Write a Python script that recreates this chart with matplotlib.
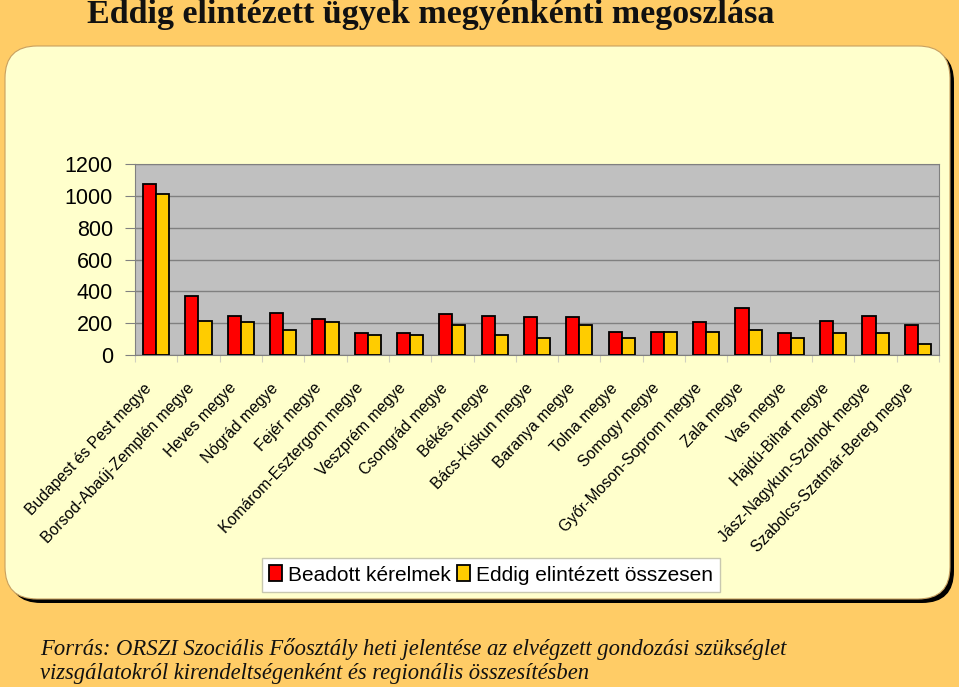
import matplotlib
matplotlib.use("Agg")
import numpy as np
import matplotlib.pyplot as plt
from matplotlib.patches import FancyBboxPatch
from matplotlib.transforms import ScaledTranslation

COUNTIES = [
    "Budapest és Pest megye", "Borsod-Abaúj-Zemplén megye", "Heves megye",
    "Nógrád megye", "Fejér megye", "Komárom-Esztergom megye", "Veszprém megye",
    "Csongrád megye", "Békés megye", "Bács-Kiskun megye", "Baranya megye",
    "Tolna megye", "Somogy megye", "Győr-Moson-Soprom megye", "Zala megye",
    "Vas megye", "Hajdú-Bihar megye", "Jász-Nagykun-Szolnok megye",
    "Szabolcs-Szatmár-Bereg megye",
]
SUBMITTED = [1075, 372, 245, 264, 224, 138, 138, 255, 245, 237, 237,
             147, 147, 205, 293, 136, 215, 245, 186]
COMPLETED = [1010, 215, 205, 157, 205, 128, 128, 186, 128, 109, 186,
             109, 147, 147, 155, 107, 136, 136, 69]
SERIES = ["Beadott kérelmek", "Eddig elintézett összesen"]
Y_TICKS = [0, 200, 400, 600, 800, 1000, 1200]

ORANGE, PANEL, PLOTBG = "#ffcc66", "#ffffcc", "#c0c0c0"
RED, GOLD, GRID = "#ff0000", "#ffcc00", "#808080"
SANS = "Liberation Sans"
SERIF = "Liberation Serif"
W, H = 959, 687

fig = plt.figure(figsize=(W / 100, H / 100), dpi=100, facecolor=ORANGE)

# background layer in pixel coordinates: rounded panel + black shadow
bg = fig.add_axes([0, 0, 1, 1], zorder=0)
bg.set_xlim(0, W); bg.set_ylim(H, 0); bg.axis("off")
bg.add_patch(FancyBboxPatch((9, 50), 945, 553,
                            boxstyle="round,pad=0,rounding_size=32",
                            facecolor="black", edgecolor="none"))
bg.add_patch(FancyBboxPatch((5, 46), 945, 553,
                            boxstyle="round,pad=0,rounding_size=32",
                            facecolor=PANEL, edgecolor="#c8a060", lw=0.8))

bg.text(431, 14, "Eddig elintézett ügyek megyénkénti megoszlása", ha="center",
        va="center", fontsize=24.5, fontweight="bold", family=SERIF, color="#111111")
bg.text(40, 649, "Forrás: ORSZI Szociális Főosztály heti jelentése az elvégzett "
        "gondozási szükséglet", ha="left", va="center", fontsize=16.3,
        style="italic", family=SERIF, color="#111111")
bg.text(40, 674, "vizsgálatokról kirendeltségenként és regionális összesítésben",
        ha="left", va="center", fontsize=16.3, style="italic", family=SERIF,
        color="#111111")

ax = fig.add_axes([135 / W, 1 - 355 / H, (939 - 135) / W, (355 - 164) / H], zorder=2)
ax.set_facecolor(PLOTBG)
x = np.arange(len(COUNTIES))
bw = 0.31
ax.bar(x - bw / 2, SUBMITTED, bw, color=RED, edgecolor="black", lw=1.3,
       label=SERIES[0], zorder=3)
ax.bar(x + bw / 2, COMPLETED, bw, color=GOLD, edgecolor="black", lw=1.3,
       label=SERIES[1], zorder=3)

ax.set_xlim(-0.5, len(COUNTIES) - 0.5)
ax.set_ylim(0, 1200)
ax.set_yticks(Y_TICKS)
ax.set_yticklabels([str(v) for v in Y_TICKS], fontsize=15.5, family=SANS)
ax.tick_params(axis="y", length=7, color=GRID, pad=9)
ax.yaxis.grid(True, color=GRID, lw=1)
ax.set_axisbelow(True)

ax.set_xticks(np.arange(len(COUNTIES) + 1) - 0.5)
ax.set_xticklabels([])
ax.tick_params(axis="x", which="major", length=5, color="#d0d0c0")
ax.set_xticks(x, minor=True)
ax.set_xticklabels(COUNTIES, minor=True, rotation=46.5, ha="right", va="center",
                   rotation_mode="anchor", fontsize=11.3, family=SANS)
ax.tick_params(axis="x", which="minor", length=0, pad=22)
shift = ScaledTranslation(-7 / 100, 0, fig.dpi_scale_trans)
for lab in ax.get_xticklabels(minor=True):
    lab.set_transform(lab.get_transform() + shift)

for side in ("top", "right", "left", "bottom"):
    ax.spines[side].set_color(GRID)

leg = fig.legend(loc="center", bbox_to_anchor=(491 / W, 1 - 575 / H), ncol=2,
                 prop={"family": SANS, "size": 15}, frameon=True,
                 fancybox=False, edgecolor="#c8c8b0", facecolor="white",
                 framealpha=1, handlelength=0.6, handleheight=0.8,
                 handletextpad=0.3, columnspacing=0.3, borderpad=0.35,
                 borderaxespad=0)
leg.set_zorder(5)

fig.savefig("out.png", dpi=100, facecolor=ORANGE)
